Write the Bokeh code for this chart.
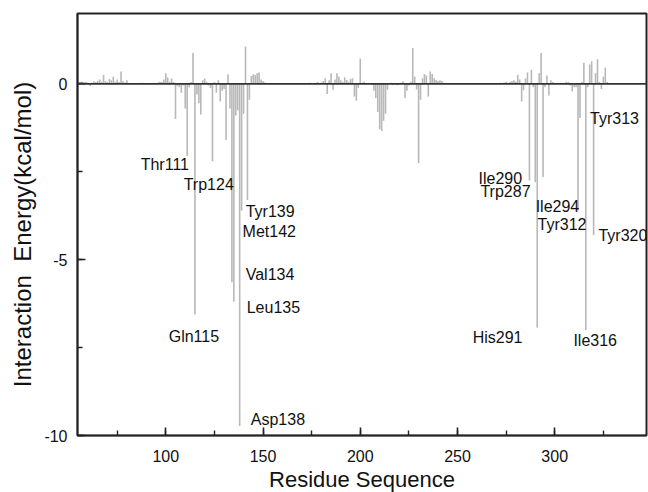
from bokeh.plotting import figure
from bokeh.models import Span, SingleIntervalTicker, ColumnDataSource, CustomJSTickFormatter
from bokeh.core.properties import value
from bokeh.embed import file_html
from bokeh.resources import INLINE

# ---------------- data ----------------
residues = [56, 57, 58, 59, 60, 61, 62, 63, 64, 65, 66, 67, 68, 69, 70, 71, 72, 73, 74, 75,
            76, 77, 78, 79, 80, 82, 85, 88, 91, 94, 96, 97, 98, 99, 100, 101, 102, 103, 104, 105,
            106, 107, 108, 109, 110, 111, 112, 113, 114, 115, 116, 117, 118, 119, 120, 121, 122, 123, 124, 125,
            126, 127, 128, 129, 130, 131, 132, 133, 134, 135, 136, 137, 138, 139, 140, 141, 142, 143, 144, 145,
            146, 147, 148, 149, 150, 151, 153, 156, 160, 165, 170, 174, 176, 178, 180, 181, 182, 183, 184, 185,
            186, 187, 188, 189, 190, 191, 192, 193, 194, 195, 196, 197, 198, 199, 200, 201, 202, 203, 204, 206,
            207, 208, 209, 210, 211, 212, 213, 214, 215, 216, 217, 218, 219, 220, 221, 222, 223, 224, 225, 226,
            227, 228, 229, 230, 231, 232, 233, 234, 235, 236, 237, 238, 239, 240, 241, 242, 243, 270, 272, 274,
            275, 276, 277, 278, 279, 280, 281, 282, 283, 284, 285, 286, 287, 288, 289, 290, 291, 292, 293, 294,
            295, 296, 297, 298, 299, 300, 303, 305, 306, 307, 308, 309, 310, 311, 312, 313, 314, 315, 316, 317,
            318, 319, 320, 321, 322, 323, 324, 325, 326, 327, 328]
energies = [0.03, 0.06, -0.04, 0.05, 0.04, -0.06, 0.03, 0.07, 0.05, 0.08, 0.12, 0.06, 0.25, 0.08, 0.05, 0.14, 0.10, 0.20, 0.06, 0.12,
            0.05, 0.35, 0.08, 0.04, 0.10, 0.02, 0.02, 0.03, 0.02, 0.03, 0.04, 0.06, 0.05, 0.12, 0.30, 0.18, 0.06, 0.15, 0.05, -1.00,
            -0.06, -0.10, -0.25, -0.05, -0.70, -2.05, -0.10, 0.05, 0.88, -6.56, -0.30, -0.55, -0.87, 0.10, 0.15, 0.06, -0.05, -0.12, -2.20, 0.05,
            -0.25, 0.10, -0.50, -0.20, -0.15, -1.60, 0.27, -0.70, -5.64, -6.20, -0.90, -0.75, -9.73, -3.60, -0.85, 1.06, -3.30, -0.45, 0.22, 0.27,
            0.25, 0.30, 0.32, 0.12, 0.08, 0.04, 0.02, 0.01, 0.01, 0.02, 0.02, 0.03, 0.02, 0.05, 0.04, 0.08, 0.15, -0.29, 0.10, 0.30,
            -0.17, 0.12, 0.30, 0.20, 0.10, 0.05, 0.19, 0.11, 0.05, 0.14, 0.16, -0.36, -0.48, -0.12, 0.72, 0.03, 0.06, 0.02, -0.02, -0.03,
            -0.20, -0.40, -0.80, -1.29, -1.34, -1.05, -0.85, -0.17, 0.02, 0.03, -0.03, 0.02, -0.04, 0.02, 0.03, 0.07, -0.40, -0.20, -0.05, 0.06,
            1.02, 0.20, -0.16, -2.25, -0.45, 0.16, 0.28, 0.24, -0.36, 0.35, 0.28, 0.16, 0.11, 0.08, 0.10, 0.08, 0.03, 0.02, 0.03, 0.04,
            0.06, 0.03, 0.05, 0.08, 0.10, 0.06, 0.26, 0.12, -0.50, -0.18, 0.15, 0.32, -2.75, 0.40, -0.10, -2.80, -6.93, 0.30, 0.88, -2.65,
            -0.10, 0.24, -0.33, 0.10, 0.05, 0.02, 0.02, 0.03, 0.06, 0.05, -0.05, -0.22, -0.10, -0.10, -3.60, -0.97, 0.05, 0.60, -7.00, -0.10,
            0.55, 0.64, -4.30, 0.30, 0.70, 0.05, -0.15, 0.20, 0.46, 0.05, 0.02]

label_names = ["Thr111", "Trp124", "Gln115", "Tyr139", "Met142", "Val134", "Leu135", "Asp138",
               "Ile290", "Trp287", "Ile294", "Tyr312", "Tyr320", "His291", "Ile316", "Tyr313"]
label_x = [87.1, 109.2, 101.5, 141.1, 139.5, 141.1, 141.6, 143.7,
           260.8, 261.8, 290.2, 291.2, 322.5, 257.8, 309.6, 318.2]
label_y = [-2.29, -2.86, -7.19, -3.64, -4.21, -5.43, -6.35, -9.55,
           -2.69, -3.05, -3.50, -4.00, -4.32, -7.20, -7.30, -0.99]

x_tick_interval = 50
y_tick_interval = 5

# ---------------- figure ----------------
FONT = "Liberation Sans"

p = figure(frame_width=569, frame_height=422, x_range=(54.6, 347.2), y_range=(-10, 2),
           output_backend="svg", toolbar_location=None,
           min_border_left=77, min_border_right=2, min_border_top=13, min_border_bottom=40)

p.background_fill_color = "white"
p.border_fill_color = "white"
p.outline_line_color = "#222222"
p.outline_line_width = 2
p.xgrid.visible = False
p.ygrid.visible = False

src = ColumnDataSource(dict(x=residues, y=energies, y0=[0] * len(residues)))
p.segment(x0="x", y0="y0", x1="x", y1="y", source=src,
          line_color="#b8b8b8", line_width=1.6, line_cap="butt")

p.add_layout(Span(location=0, dimension="width", line_color="#333333", line_width=1.6))

lsrc = ColumnDataSource(dict(x=label_x, y=label_y, t=label_names))
p.text(x="x", y="y", text="t", source=lsrc, text_font=value(FONT), text_font_size="16px",
       text_color="#111111", text_align="left", text_baseline="middle")

p.xaxis.ticker = SingleIntervalTicker(interval=x_tick_interval, num_minor_ticks=2)
p.yaxis.ticker = SingleIntervalTicker(interval=y_tick_interval, num_minor_ticks=2)

fmt = CustomJSTickFormatter(code="return tick.toFixed(0);")

for ax in (p.xaxis[0], p.yaxis[0]):
    ax.formatter = fmt
    ax.axis_line_color = "#222222"
    ax.axis_line_width = 1.6
    ax.major_tick_line_color = "#222222"
    ax.minor_tick_line_color = "#222222"
    ax.major_tick_line_width = 1.6
    ax.minor_tick_line_width = 1.4
    ax.major_tick_in = 8
    ax.major_tick_out = 0
    ax.minor_tick_in = 5
    ax.minor_tick_out = 0
    ax.major_label_text_font = FONT
    ax.major_label_text_font_size = "16px"
    ax.major_label_text_color = "#111111"
    ax.axis_label_text_font = FONT
    ax.axis_label_text_font_style = "normal"
    ax.axis_label_text_color = "#111111"

p.xaxis.axis_label = "Residue Sequence"
p.xaxis.axis_label_text_font_size = "22px"
p.xaxis.major_label_standoff = 14
p.xaxis.axis_label_standoff = 2

p.yaxis.axis_label = "Interaction\u00a0\u00a0Energy(kcal/mol)\u00a0\u00a0\u00a0"
p.yaxis.axis_label_text_font_size = "24px"
p.yaxis.major_label_standoff = 10
p.yaxis.axis_label_standoff = 5

open("out.html", "w").write(file_html(p, INLINE))
